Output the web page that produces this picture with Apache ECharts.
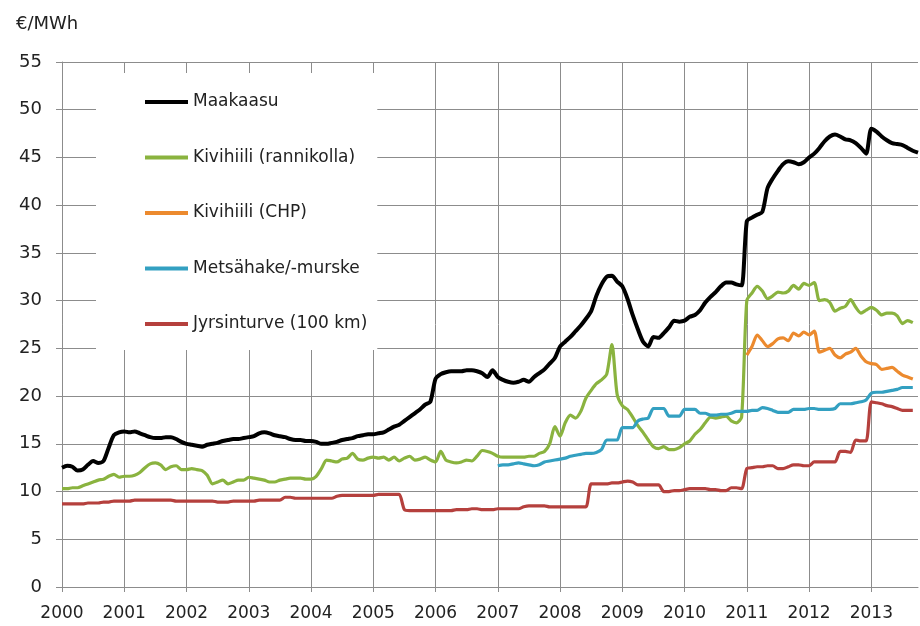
<!DOCTYPE html>
<html>
<head>
<meta charset="utf-8">
<script src="https://cdn.jsdelivr.net/npm/echarts@6/dist/echarts.min.js"></script>
<style>
  html, body { margin: 0; padding: 0; background: #fff; }
  #chart { width: 920px; height: 626px; }
</style>
</head>
<body>
<div id="chart"></div>
<script>
// monthly prices, Jan 2000 .. Oct 2013
const years = [2000, 2001, 2002, 2003, 2004, 2005, 2006, 2007, 2008, 2009, 2010, 2011, 2012, 2013]
const monthCount = 166

const maakaasu = [
  12.5, 12.7, 12.6, 12.2, 12.3, 12.8, 13.2, 13.0, 13.2, 14.6, 15.9, 16.2,
  16.3, 16.2, 16.3, 16.1, 15.9, 15.7, 15.6, 15.6, 15.7, 15.7, 15.5, 15.2,
  15.0, 14.9, 14.8, 14.7, 14.9, 15.0, 15.1, 15.3, 15.4, 15.5, 15.5, 15.6,
  15.7, 15.8, 16.1, 16.2, 16.1, 15.9, 15.8, 15.7, 15.5, 15.4, 15.4, 15.3,
  15.3, 15.2, 15.0, 15.0, 15.1, 15.2, 15.4, 15.5, 15.6, 15.8, 15.9, 16.0,
  16.0, 16.1, 16.2, 16.5, 16.8, 17.0, 17.4, 17.8, 18.2, 18.6, 19.1, 19.4,
  21.8, 22.3, 22.5, 22.6, 22.6, 22.6, 22.7, 22.7, 22.6, 22.4, 22.0, 22.7,
  22.0, 21.7, 21.5, 21.4, 21.5, 21.7, 21.5, 22.0, 22.4, 22.8, 23.4, 24.0,
  25.2, 25.7, 26.2, 26.8, 27.4, 28.1, 28.9, 30.5, 31.7, 32.5, 32.6, 32.0,
  31.5, 30.2, 28.5, 27.0, 25.7, 25.2, 26.2, 26.1, 26.6, 27.2, 27.9, 27.8,
  27.9, 28.3, 28.5, 29.0, 29.8, 30.4, 30.9, 31.5, 31.9, 31.9, 31.7, 31.6,
  38.3, 38.7, 39.0, 39.3, 41.8, 42.8, 43.6, 44.3, 44.6, 44.5, 44.3, 44.5,
  45.0, 45.4, 46.0, 46.7, 47.2, 47.4, 47.2, 46.9, 46.8, 46.5, 46.0, 45.4,
  48.0, 47.7, 47.2, 46.8, 46.5, 46.4, 46.3, 46.0, 45.7, 45.5
]

const kivihiiliRannikolla = [
  10.3, 10.3, 10.4, 10.4, 10.6, 10.8, 11.0, 11.2, 11.3, 11.6, 11.8, 11.5,
  11.6, 11.6, 11.7, 12.0, 12.5, 12.9, 13.0, 12.8, 12.3, 12.6, 12.7, 12.3,
  12.3, 12.4, 12.3, 12.2, 11.7, 10.8, 11.0, 11.2, 10.8, 11.0, 11.2, 11.2,
  11.5, 11.4, 11.3, 11.2, 11.0, 11.0, 11.2, 11.3, 11.4, 11.4, 11.4, 11.3,
  11.3, 11.6, 12.4, 13.3, 13.2, 13.1, 13.4, 13.5, 14.0, 13.4, 13.3, 13.5,
  13.6, 13.5, 13.6, 13.3, 13.6, 13.2, 13.5, 13.7, 13.3, 13.4, 13.6, 13.3,
  13.1, 14.2, 13.3, 13.1, 13.0, 13.1, 13.3, 13.2, 13.7, 14.3, 14.2, 14.0,
  13.7, 13.6, 13.6, 13.6, 13.6, 13.6, 13.7, 13.7, 14.0, 14.2, 15.0, 16.8,
  15.8, 17.2, 18.0, 17.7, 18.4, 19.8, 20.6, 21.3, 21.7, 22.3, 25.4, 20.2,
  19.0, 18.6, 17.8, 16.9, 16.2, 15.4, 14.7, 14.5, 14.7, 14.4, 14.4, 14.6,
  15.0, 15.3, 16.0, 16.5, 17.2, 17.8, 17.7, 17.8, 17.9, 17.4, 17.2, 17.8,
  30.0, 30.8, 31.5, 31.0, 30.2, 30.5, 30.9, 30.8, 31.0, 31.6, 31.2, 31.8,
  31.6, 31.9, 30.0, 30.1, 29.8, 28.9, 29.2, 29.4, 30.1, 29.3, 28.7, 29.0,
  29.3, 29.0, 28.5, 28.7, 28.7, 28.4, 27.6, 27.9, 27.7
]

// from Jan 2011
const kivihiiliChp = [
  24.3, 25.2, 26.4, 25.8, 25.2, 25.5, 26.0, 26.1, 25.8, 26.6, 26.3, 26.7,
  26.4, 26.8, 24.6, 24.8, 25.0, 24.3, 24.0, 24.4, 24.6, 25.0, 24.2, 23.6,
  23.4, 23.3, 22.8, 22.9, 23.0, 22.6, 22.2, 22.0, 21.8
]

// from Jan 2007
const metsahake = [
  12.7, 12.8, 12.8, 12.9, 13.0, 12.9, 12.8, 12.7, 12.8, 13.1, 13.2, 13.3,
  13.4, 13.5, 13.7, 13.8, 13.9, 14.0, 14.0, 14.1, 14.4, 15.4, 15.4, 15.4,
  16.7, 16.7, 16.7, 17.4, 17.6, 17.7, 18.7, 18.7, 18.7, 17.9, 17.9, 17.9,
  18.6, 18.6, 18.6, 18.2, 18.2, 18.0, 18.0, 18.1, 18.1, 18.2, 18.4, 18.4,
  18.4, 18.5, 18.5, 18.8, 18.7, 18.5, 18.3, 18.3, 18.3, 18.6, 18.6, 18.6,
  18.7, 18.7, 18.6, 18.6, 18.6, 18.7, 19.2, 19.2, 19.2, 19.3, 19.4, 19.6,
  20.3, 20.4, 20.4, 20.5, 20.6, 20.7, 20.9, 20.9, 20.9
]

const jyrsinturve = [
  8.7, 8.7, 8.7, 8.7, 8.7, 8.8, 8.8, 8.8, 8.9, 8.9, 9.0, 9.0,
  9.0, 9.0, 9.1, 9.1, 9.1, 9.1, 9.1, 9.1, 9.1, 9.1, 9.0, 9.0,
  9.0, 9.0, 9.0, 9.0, 9.0, 9.0, 8.9, 8.9, 8.9, 9.0, 9.0, 9.0,
  9.0, 9.0, 9.1, 9.1, 9.1, 9.1, 9.1, 9.4, 9.4, 9.3, 9.3, 9.3,
  9.3, 9.3, 9.3, 9.3, 9.3, 9.5, 9.6, 9.6, 9.6, 9.6, 9.6, 9.6,
  9.6, 9.7, 9.7, 9.7, 9.7, 9.7, 8.1, 8.0, 8.0, 8.0, 8.0, 8.0,
  8.0, 8.0, 8.0, 8.0, 8.1, 8.1, 8.1, 8.2, 8.2, 8.1, 8.1, 8.1,
  8.2, 8.2, 8.2, 8.2, 8.2, 8.4, 8.5, 8.5, 8.5, 8.5, 8.4, 8.4,
  8.4, 8.4, 8.4, 8.4, 8.4, 8.4, 10.8, 10.8, 10.8, 10.8, 10.9, 10.9,
  11.0, 11.1, 11.0, 10.7, 10.7, 10.7, 10.7, 10.7, 10.0, 10.0, 10.1, 10.1,
  10.2, 10.3, 10.3, 10.3, 10.3, 10.2, 10.2, 10.1, 10.1, 10.4, 10.4, 10.3,
  12.4, 12.5, 12.6, 12.6, 12.7, 12.7, 12.4, 12.4, 12.6, 12.8, 12.8, 12.7,
  12.7, 13.1, 13.1, 13.1, 13.1, 13.1, 14.2, 14.2, 14.1, 15.4, 15.3, 15.3,
  19.4, 19.3, 19.2, 19.0, 18.9, 18.7, 18.5, 18.5, 18.5
]

const months = []
years.forEach(y => {
  for (let m = 1; m <= 12; m++) months.push(y + '-' + m)
})
const categories = months.slice(0, monthCount)

const pad = (arr, startIdx) => new Array(startIdx).fill(null).concat(arr)
const yearStart = (i) => i % 12 === 0

const gridColor = '#8c8c8c'
const textColor = '#222'
const font = '"DejaVu Sans", sans-serif'

const chart = echarts.init(document.getElementById('chart'))

const lineSeries = (name, data, color, width) => ({
  name,
  type: 'line',
  data,
  showSymbol: false,
  smooth: 0.25,
  connectNulls: false,
  lineStyle: { color, width },
  itemStyle: { color },
  emphasis: { disabled: true },
})

const option = {
  animation: false,
  title: {
    text: '€/MWh',
    left: 11,
    top: 10,
    textStyle: { fontSize: 18, fontWeight: 'normal', color: textColor, fontFamily: font }
  },
  grid: { left: 62, right: 2, top: 62, bottom: 39 },
  legend: {
    orient: 'vertical',
    left: 96,
    top: 73,
    padding: [20, 10, 17, 49],
    backgroundColor: '#fff',
    icon: 'rect',
    itemWidth: 43,
    itemHeight: 4,
    itemGap: 37.5,
    textStyle: { fontSize: 17, lineHeight: 18, color: textColor, fontFamily: font },
    z: 5
  },
  xAxis: {
    type: 'category',
    data: categories,
    boundaryGap: false,
    axisLine: { lineStyle: { color: gridColor, width: 1 } },
    axisTick: { show: true, length: 5, interval: yearStart, lineStyle: { color: gridColor } },
    axisLabel: {
      interval: yearStart,
      margin: 18,
      fontSize: 17,
      color: textColor,
      fontFamily: font,
      formatter: v => v.slice(0, 4)
    },
    splitLine: { show: true, interval: yearStart, lineStyle: { color: gridColor, width: 1 } }
  },
  yAxis: {
    type: 'value',
    min: 0,
    max: 55,
    interval: 5,
    axisLine: { show: true, lineStyle: { color: gridColor, width: 1 } },
    axisTick: { show: true, length: 6, lineStyle: { color: gridColor } },
    axisLabel: { margin: 20, fontSize: 18, color: textColor, fontFamily: font },
    splitLine: { show: true, lineStyle: { color: gridColor, width: 1 } }
  },
  series: [
    lineSeries('Maakaasu', maakaasu, '#000000', 4),
    lineSeries('Kivihiili (rannikolla)', kivihiiliRannikolla, '#8AB33F', 3.2),
    lineSeries('Kivihiili (CHP)', pad(kivihiiliChp, 132), '#EC8A2E', 3.2),
    lineSeries('Metsähake/-murske', pad(metsahake, 84), '#33A0C1', 3.2),
    lineSeries('Jyrsinturve (100 km)', jyrsinturve, '#B5403D', 3.2),
  ]
}

chart.setOption(option)
</script>
</body>
</html>
